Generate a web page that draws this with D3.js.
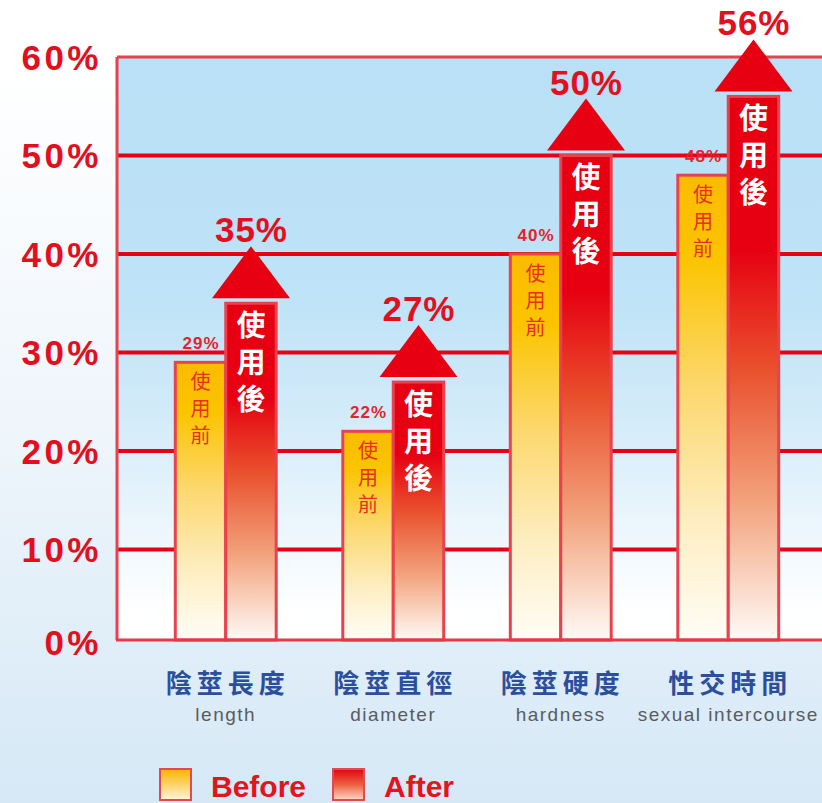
<!DOCTYPE html>
<html>
<head>
<meta charset="utf-8">
<script src="https://cdn.jsdelivr.net/npm/d3@7"></script>
<style>
  html, body { margin: 0; padding: 0; background: #fff; }
  svg { display: block; }
</style>
</head>
<body>
<div id="chart"></div>
<script>
// chart values
var categories = ["陰莖長度", "陰莖直徑", "陰莖硬度", "性交時間"];
var englishLabels = ["length", "diameter", "hardness", "sexual intercourse"];
var series = ["before", "after"];
var beforeValues = [29, 22, 40, 48];
var afterValues = [35, 27, 50, 56];
var yTicks = [0, 10, 20, 30, 40, 50, 60];
var legendLabels = ["Before", "After"];
var barTextBefore = "使用前";
var barTextAfter = "使用後";

var W = 822, H = 803;
var plotLeft = 117, plotTop = 57, plotBottom = 640;
var red = "#e60012";
var latin = "'Liberation Sans', Arial, sans-serif";
var cjk = "'Noto Sans CJK TC', 'Noto Sans CJK SC', sans-serif";

var svg = d3.select("#chart").append("svg")
    .attr("width", W)
    .attr("height", H);

var defs = svg.append("defs");

function grad(id, stops) {
    var g = defs.append("linearGradient")
        .attr("id", id)
        .attr("x1", 0).attr("y1", 0).attr("x2", 0).attr("y2", 1);
    stops.forEach(function(s) {
        g.append("stop").attr("offset", s[0]).attr("stop-color", s[1]);
    });
}
grad("pageBg", [[0, "#ffffff"], [0.08, "#ffffff"], [0.55, "#eef5fb"], [0.8, "#e0eef8"], [1, "#d6e8f6"]]);
grad("plotBg", [[0, "#b9e0f6"], [0.42, "#bfe3f7"], [0.62, "#d3ebf9"], [0.82, "#eef7fd"], [0.96, "#ffffff"], [1, "#ffffff"]]);
grad("beforeFill", [[0, "#fbbb00"], [0.18, "#fbc400"], [0.45, "#fcd76c"], [0.75, "#fdeec2"], [1, "#fffdf6"]]);
grad("afterFill", [[0, "#e60012"], [0.28, "#e60012"], [0.5, "#e9502c"], [0.75, "#f2a47e"], [1, "#fffaf6"]]);
grad("legendBefore", [[0, "#f8b400"], [0.5, "#fcd36a"], [1, "#fff6dc"]]);
grad("legendAfter", [[0, "#e60012"], [0.5, "#ec6040"], [1, "#fbd8c8"]]);

svg.append("rect")
    .attr("width", W).attr("height", H)
    .attr("fill", "url(#pageBg)");

// scales
var y = d3.scaleLinear().domain([0, 60]).range([648, plotTop]);
var x0 = d3.scaleBand().domain(categories).range([142, 812]);
var x1 = d3.scaleBand().domain(series).range([0, x0.bandwidth()])
    .paddingInner(0).paddingOuter(0.66);

// plot area
svg.append("rect")
    .attr("x", plotLeft).attr("y", plotTop)
    .attr("width", W - plotLeft).attr("height", plotBottom - plotTop)
    .attr("fill", "url(#plotBg)");

svg.append("g").selectAll("line")
    .data(yTicks.filter(function(d) { return d > 0; }))
    .enter().append("line")
        .attr("x1", plotLeft).attr("x2", W)
        .attr("y1", function(d) { return y(d); })
        .attr("y2", function(d) { return y(d); })
        .attr("stroke", function(d) { return d === 60 ? "#e8404c" : red; })
        .attr("stroke-width", function(d) { return d === 60 ? 3 : 4; });

svg.append("line")
    .attr("x1", plotLeft).attr("x2", plotLeft)
    .attr("y1", plotTop).attr("y2", plotBottom)
    .attr("stroke", "#e8404c").attr("stroke-width", 3);

// y labels
svg.append("g").selectAll("text")
    .data(yTicks)
    .enter().append("text")
        .attr("x", 102)
        .attr("y", function(d) { return Math.min(y(d), plotBottom + 2); })
        .attr("dy", "0.36em")
        .attr("text-anchor", "end")
        .attr("fill", "#e2101e")
        .style("font-family", latin)
        .style("font-weight", "bold")
        .style("font-size", "35px")
        .style("letter-spacing", "3.5px")
        .text(function(d) { return d + "%"; });

// bars
var groups = svg.append("g").selectAll("g")
    .data(categories)
    .enter().append("g")
        .attr("transform", function(d) { return "translate(" + x0(d) + ",0)"; });

groups.append("rect")
    .attr("x", x1("before"))
    .attr("y", function(d, i) { return y(beforeValues[i]); })
    .attr("width", x1.bandwidth())
    .attr("height", function(d, i) { return plotBottom - y(beforeValues[i]); })
    .attr("fill", "url(#beforeFill)")
    .attr("stroke", "#e9424f")
    .attr("stroke-width", 3);

groups.append("rect")
    .attr("x", x1("after"))
    .attr("y", function(d, i) { return y(afterValues[i]); })
    .attr("width", x1.bandwidth())
    .attr("height", function(d, i) { return plotBottom - y(afterValues[i]); })
    .attr("fill", "url(#afterFill)")
    .attr("stroke", "#e9424f")
    .attr("stroke-width", 3);

// baseline over the bars
svg.append("line")
    .attr("x1", plotLeft - 1).attr("x2", W)
    .attr("y1", plotBottom).attr("y2", plotBottom)
    .attr("stroke", "#e23a46").attr("stroke-width", 3);

// small before labels
groups.append("text")
    .attr("x", x1("before") + x1.bandwidth() / 2 + 0.5)
    .attr("y", function(d, i) { return y(beforeValues[i]) - 13; })
    .attr("text-anchor", "middle")
    .attr("fill", "#e2242c")
    .style("font-family", latin)
    .style("font-weight", "bold")
    .style("font-size", "17px")
    .style("letter-spacing", "1px")
    .text(function(d, i) { return beforeValues[i] + "%"; });

// vertical text inside bars
groups.append("text")
    .attr("x", x1("before") + x1.bandwidth() / 2)
    .attr("y", function(d, i) { return y(beforeValues[i]) + 9; })
    .attr("fill", "#e8301e")
    .style("writing-mode", "vertical-rl")
    .style("font-family", cjk)
    .style("font-size", "20px")
    .style("letter-spacing", "7px")
    .text(barTextBefore);

groups.append("text")
    .attr("x", x1("after") + x1.bandwidth() / 2)
    .attr("y", function(d, i) { return y(afterValues[i]) + 7; })
    .attr("fill", "#ffffff")
    .style("writing-mode", "vertical-rl")
    .style("font-family", cjk)
    .style("font-weight", "bold")
    .style("font-size", "29px")
    .style("letter-spacing", "8px")
    .text(barTextAfter);

// arrows over the after bars
var triW = 78, triH = 52, triGap = 5;
groups.append("path")
    .attr("d", function(d, i) {
        var cx = x1("after") + x1.bandwidth() / 2;
        var base = y(afterValues[i]) - triGap;
        return "M" + (cx - triW / 2) + "," + base +
               "L" + cx + "," + (base - triH) +
               "L" + (cx + triW / 2) + "," + base + "Z";
    })
    .attr("fill", red);

groups.append("text")
    .attr("x", x1("after") + x1.bandwidth() / 2 + 0.5)
    .attr("y", function(d, i) { return y(afterValues[i]) - triGap - triH - 4; })
    .attr("text-anchor", "middle")
    .attr("fill", "#e2101e")
    .style("font-family", latin)
    .style("font-weight", "bold")
    .style("font-size", "35px")
    .style("letter-spacing", "1px")
    .text(function(d, i) { return afterValues[i] + "%"; });

// category labels
groups.append("text")
    .attr("x", x0.bandwidth() / 2 + 2)
    .attr("y", 693)
    .attr("text-anchor", "middle")
    .attr("fill", "#2b4f9c")
    .style("font-family", cjk)
    .style("font-weight", "bold")
    .style("font-size", "26px")
    .style("letter-spacing", "5px")
    .text(function(d) { return d; });

groups.append("text")
    .attr("x", x0.bandwidth() / 2)
    .attr("y", 721)
    .attr("text-anchor", "middle")
    .attr("fill", "#585c62")
    .style("font-family", latin)
    .style("font-size", "19px")
    .style("letter-spacing", "1.5px")
    .text(function(d, i) { return englishLabels[i]; });

// legend
var legend = svg.append("g").selectAll("g")
    .data(legendLabels)
    .enter().append("g")
        .attr("transform", function(d, i) { return "translate(" + (160 + i * 173) + ",769)"; });

legend.append("rect")
    .attr("width", 31).attr("height", 31)
    .attr("fill", function(d, i) { return i === 0 ? "url(#legendBefore)" : "url(#legendAfter)"; })
    .attr("stroke", "#e04a52")
    .attr("stroke-width", 2);

legend.append("text")
    .attr("x", 51)
    .attr("y", 28)
    .attr("fill", "#e2141e")
    .style("font-family", latin)
    .style("font-weight", "bold")
    .style("font-size", "30px")
    .text(function(d) { return d; });
</script>
</body>
</html>
